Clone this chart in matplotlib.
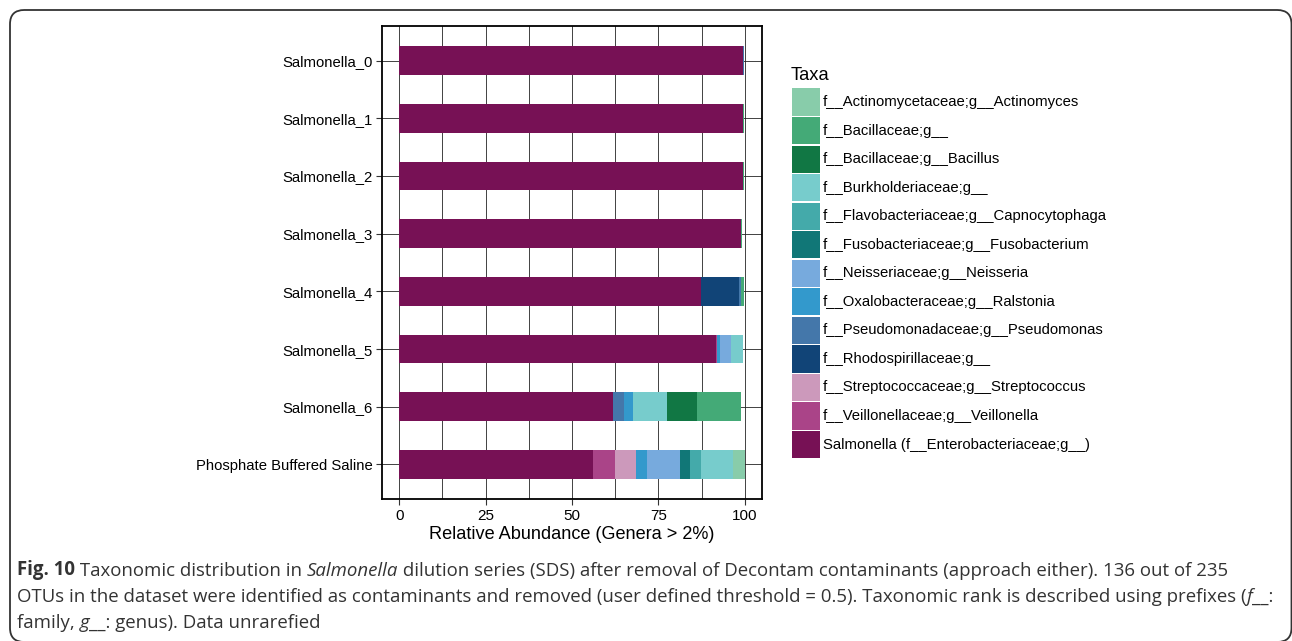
import matplotlib
matplotlib.use("Agg")
import matplotlib.pyplot as plt
from matplotlib.patches import Rectangle, FancyBboxPatch
import numpy as np

# ---------------- data ----------------
samples = ["Salmonella_0", "Salmonella_1", "Salmonella_2", "Salmonella_3",
           "Salmonella_4", "Salmonella_5", "Salmonella_6", "Phosphate Buffered Saline"]

# legend order (top to bottom)
taxa = ["f__Actinomycetaceae;g__Actinomyces",
        "f__Bacillaceae;g__",
        "f__Bacillaceae;g__Bacillus",
        "f__Burkholderiaceae;g__",
        "f__Flavobacteriaceae;g__Capnocytophaga",
        "f__Fusobacteriaceae;g__Fusobacterium",
        "f__Neisseriaceae;g__Neisseria",
        "f__Oxalobacteraceae;g__Ralstonia",
        "f__Pseudomonadaceae;g__Pseudomonas",
        "f__Rhodospirillaceae;g__",
        "f__Streptococcaceae;g__Streptococcus",
        "f__Veillonellaceae;g__Veillonella",
        "Salmonella (f__Enterobacteriaceae;g__)"]

taxa_colors = ["#88CCAA", "#44AA77", "#117744", "#77CCCC", "#44AAAA", "#117777",
               "#77AADD", "#3399CC", "#4477AA", "#114477", "#CC99BB", "#AA4488",
               "#771155"]

# values per sample: S0, S1, S2, S3, S4, S5, S6, PBS
actinomyces      = [0.0, 0.0, 0.0, 0.0, 0.0, 0.0, 0.0, 3.4]
bacillaceae      = [0.0, 0.4, 0.4, 0.3, 0.7, 0.0, 12.6, 0.0]
bacillus         = [0.0, 0.0, 0.0, 0.0, 0.0, 0.0, 8.7, 0.0]
burkholderiaceae = [0.0, 0.0, 0.0, 0.0, 0.0, 3.6, 9.8, 9.3]
capnocytophaga   = [0.0, 0.0, 0.0, 0.0, 0.0, 0.0, 0.0, 3.2]
fusobacterium    = [0.0, 0.0, 0.0, 0.0, 0.0, 0.0, 0.0, 2.8]
neisseria        = [0.0, 0.0, 0.0, 0.0, 0.0, 3.1, 0.0, 9.5]
ralstonia        = [0.0, 0.0, 0.0, 0.0, 0.0, 1.0, 2.6, 3.2]
pseudomonas      = [0.3, 0.0, 0.0, 0.0, 0.7, 0.0, 3.1, 0.0]
rhodospirillaceae = [0.0, 0.0, 0.0, 0.0, 11.0, 0.0, 0.0, 0.0]
streptococcus    = [0.0, 0.0, 0.0, 0.0, 0.0, 0.0, 0.0, 6.1]
veillonella      = [0.0, 0.0, 0.0, 0.0, 0.0, 0.3, 0.0, 6.4]
salmonella       = [99.5, 99.4, 99.4, 98.8, 87.3, 91.6, 62.0, 56.1]

series = [actinomyces, bacillaceae, bacillus, burkholderiaceae, capnocytophaga,
          fusobacterium, neisseria, ralstonia, pseudomonas, rhodospirillaceae,
          streptococcus, veillonella, salmonella]

xticks = [0, 25, 50, 75, 100]
xlabel = "Relative Abundance (Genera > 2%)"
legend_title = "Taxa"

# ---------------- figure ----------------
W, H = 1292, 641
fig = plt.figure(figsize=(W / 100, H / 100), dpi=100)
fig.patch.set_facecolor("white")

def fx(px):
    return px / W

def fy(py):
    return 1 - py / H

# outer rounded frame (bottom and right edges fall at the image border)
frame = FancyBboxPatch((fx(10), fy(642)), fx(1291.5) - fx(10), fy(10) - fy(642),
                       boxstyle="round,pad=0,rounding_size=0.011",
                       transform=fig.transFigure, fill=False,
                       edgecolor="#333333", linewidth=1.3, mutation_aspect=2.0)
fig.patches.append(frame)

left, right, top, bottom = 382, 762, 26, 499
ax = fig.add_axes([fx(left), fy(bottom), fx(right) - fx(left), fy(top) - fy(bottom)])

font = "Liberation Sans"
y = np.arange(len(samples))
cum = np.zeros(len(samples))
# stack from Salmonella (last in legend) to Actinomyces (first)
for vals, col in zip(series[::-1], taxa_colors[::-1]):
    v = np.array(vals)
    ax.barh(y, v, left=cum, height=0.5, color=col, edgecolor="none", zorder=3)
    cum += v

ax.set_xlim(-5, 105)
ax.set_ylim(len(samples) - 0.4, -0.6)
ax.set_yticks(y)
ax.set_yticklabels(samples, fontfamily=font, fontsize=10.7, color="black")
ax.set_xticks(xticks)
ax.set_xticklabels([str(t) for t in xticks], fontfamily=font, fontsize=11, color="black")
ax.set_xticks([12.5, 37.5, 62.5, 87.5], minor=True)
ax.tick_params(axis="both", which="major", direction="out", length=4.5, width=0.8,
               color="#333333")
ax.tick_params(axis="x", which="major", pad=2.5)
ax.tick_params(axis="y", which="major", pad=2.5)
ax.tick_params(axis="x", which="minor", length=0)
ax.grid(True, which="major", axis="both", color="#222222", linewidth=0.6, zorder=0)
ax.grid(True, which="minor", axis="x", color="#222222", linewidth=0.6, zorder=0)
ax.set_axisbelow(True)
for s in ax.spines.values():
    s.set_linewidth(1.3)
    s.set_color("black")
ax.set_xlabel(xlabel, fontfamily=font, fontsize=13.1, labelpad=2.5)

# ---------------- legend ----------------
fig.text(fx(791), fy(75), legend_title, fontfamily=font, fontsize=13.2,
         va="center", ha="left")
key_x0, key_w = 792, 28
first_center, step = 102, 28.55
for i, (lab, col) in enumerate(zip(taxa, taxa_colors)):
    cy = first_center + i * step
    r = Rectangle((fx(key_x0), fy(cy + 13.6)), fx(key_w), fy(cy - 13.6) - fy(cy + 13.6),
                  transform=fig.transFigure, facecolor=col, edgecolor="none")
    fig.patches.append(r)
    fig.text(fx(823), fy(cy), lab, fontfamily=font, fontsize=10.7, va="center", ha="left")

# ---------------- caption ----------------
cap_font = "Open Sans"
cap_size = 13.45
cap_color = "#333333"
renderer = fig.canvas.get_renderer()

def draw_line(segments, x_px, y_px):
    x = x_px
    for txt, weight, style in segments:
        t = fig.text(fx(x), fy(y_px), txt, fontfamily=cap_font, fontsize=cap_size,
                     fontweight=weight, fontstyle=style, color=cap_color,
                     va="baseline", ha="left")
        bb = t.get_window_extent(renderer=renderer)
        x += bb.width

cap_lines = [
    [("Fig. 10", "bold", "normal"), (" Taxonomic distribution in ", "normal", "normal"),
     ("Salmonella", "normal", "italic"),
     (" dilution series (SDS) after removal of Decontam contaminants (approach either). 136 out of 235",
      "normal", "normal")],
    [("OTUs in the dataset were identified as contaminants and removed (user defined threshold = 0.5). Taxonomic rank is described using prefixes (",
      "normal", "normal"), ("f", "normal", "italic"), ("__:", "normal", "normal")],
    [("family, ", "normal", "normal"), ("g", "normal", "italic"),
     ("__: genus). Data unrarefied", "normal", "normal")],
]
for i, segs in enumerate(cap_lines):
    draw_line(segs, 17, 575.5 + i * 26.5)

fig.savefig("out.png", dpi=100, facecolor="white")
